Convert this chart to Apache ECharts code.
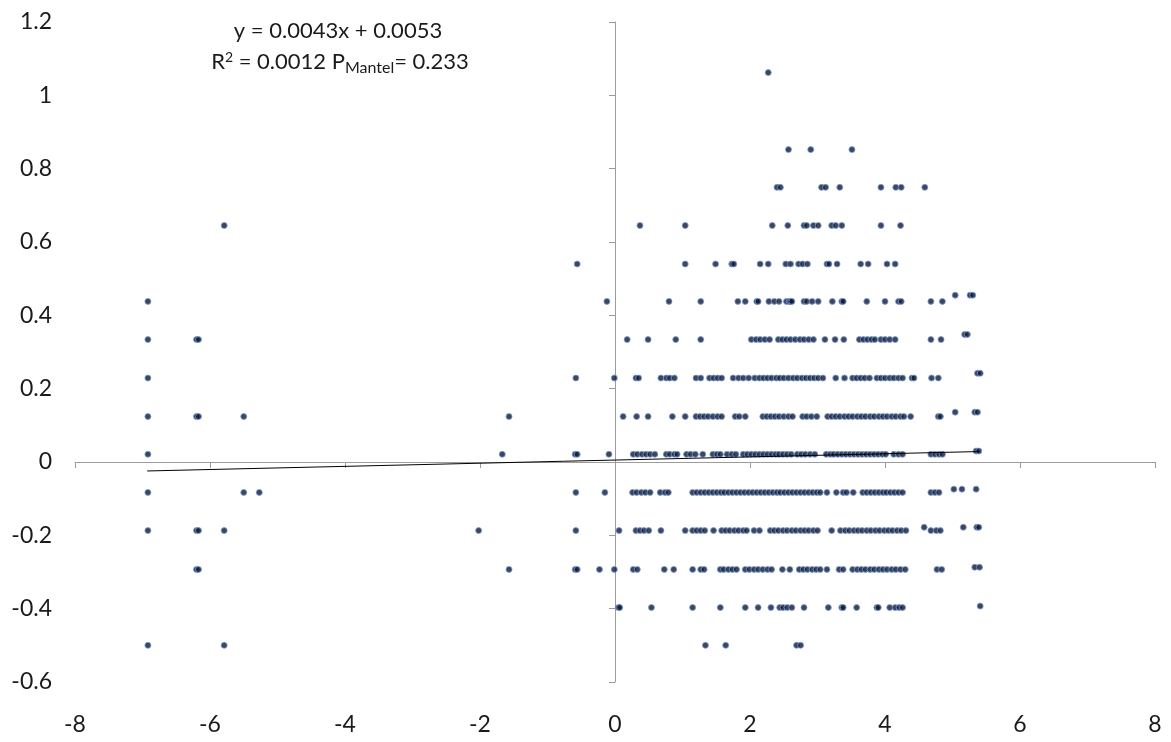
<!DOCTYPE html>
<html>
<head>
<meta charset="utf-8">
<script src="https://cdn.jsdelivr.net/npm/echarts@6/dist/echarts.min.js"></script>
<style>
  html, body { margin: 0; padding: 0; background: #fff; }
  #chart { width: 1171px; height: 742px; }
</style>
</head>
<body>
<div id="chart"></div>
<script>
// Distance-difference values grouped by their discrete y level
const yLevels = [1.062, 0.852, 0.749, 0.645, 0.54, 0.438, 0.334, 0.229, 0.124, 0.021, -0.083, -0.187, -0.293, -0.397, -0.5];

const xAt_1_062 = [2.27];
const xAt_0_852 = [2.57, 2.90, 3.51];
const xAt_0_749 = [2.40, 2.45, 3.06, 3.12, 3.33, 3.94, 4.16, 4.24, 4.59];
const xAt_0_645 = [-5.79, 0.37, 1.04, 2.33, 2.56, 2.80, 2.84, 2.94, 3.01, 3.21, 3.27, 3.36, 3.94, 4.23];
const xAt_0_540 = [-0.56, 1.04, 1.49, 1.73, 1.76, 2.15, 2.27, 2.53, 2.60, 2.72, 2.78, 2.85, 3.14, 3.17, 3.29, 3.64, 3.75, 4.03, 4.15];
const xAt_0_438 = [-6.92, -0.12, 0.80, 1.27, 1.82, 1.93, 2.10, 2.12, 2.28, 2.36, 2.43, 2.54, 2.58, 2.60, 2.62, 2.80, 2.84, 2.92, 3.01, 3.22, 3.36, 3.38, 3.73, 4.00, 4.20, 4.24, 4.68, 4.85];
const xAt_0_334 = [-6.92, -6.20, -6.17, 0.18, 0.49, 0.90, 1.27, 2.02, 2.09, 2.15, 2.22, 2.29, 2.42, 2.48, 2.54, 2.60, 2.67, 2.74, 2.80, 2.87, 2.94, 3.11, 3.26, 3.39, 3.62, 3.68, 3.74, 3.80, 3.85, 3.94, 4.00, 4.07, 4.15, 4.68, 4.83];
const xAt_0_229 = [-6.92, -0.58, -0.01, 0.31, 0.35, 0.68, 0.76, 0.81, 0.88, 1.20, 1.27, 1.40, 1.46, 1.52, 1.58, 1.75, 1.83, 1.90, 1.98, 2.07, 2.14, 2.20, 2.26, 2.32, 2.39, 2.44, 2.50, 2.57, 2.64, 2.70, 2.77, 2.83, 2.89, 2.95, 3.01, 3.08, 3.27, 3.40, 3.52, 3.58, 3.64, 3.70, 3.77, 3.88, 3.94, 4.00, 4.07, 4.13, 4.20, 4.26, 4.40, 4.43, 4.69, 4.79];
const xAt_0_124 = [-6.92, -6.20, -6.17, -5.50, -1.57, 0.12, 0.32, 0.49, 0.85, 1.04, 1.20, 1.26, 1.32, 1.38, 1.45, 1.52, 1.58, 1.78, 1.84, 1.93, 2.19, 2.25, 2.31, 2.37, 2.43, 2.50, 2.57, 2.63, 2.78, 2.84, 2.91, 2.99, 3.15, 3.21, 3.27, 3.33, 3.40, 3.46, 3.52, 3.59, 3.65, 3.71, 3.78, 3.84, 3.91, 3.97, 4.03, 4.10, 4.16, 4.23, 4.28, 4.38, 4.79, 4.82];
const xAt_0_021 = [-6.92, -1.67, -0.59, -0.56, -0.09, 0.27, 0.33, 0.40, 0.46, 0.52, 0.59, 0.76, 0.81, 0.88, 0.92, 1.06, 1.12, 1.19, 1.30, 1.45, 1.51, 1.56, 1.66, 1.73, 1.79, 1.90, 1.96, 2.02, 2.08, 2.14, 2.20, 2.26, 2.32, 2.38, 2.43, 2.49, 2.55, 2.61, 2.70, 2.76, 2.82, 2.89, 2.96, 3.13, 3.19, 3.24, 3.30, 3.36, 3.42, 3.48, 3.54, 3.60, 3.66, 3.72, 3.78, 3.84, 3.90, 3.96, 4.01, 4.13, 4.20, 4.26, 4.68, 4.74, 4.80, 4.85];
const xAt_m0_083 = [-6.92, -5.50, -5.27, -0.58, -0.15, 0.26, 0.32, 0.39, 0.45, 0.52, 0.67, 0.74, 0.79, 1.15, 1.21, 1.27, 1.33, 1.39, 1.45, 1.51, 1.57, 1.62, 1.68, 1.74, 1.80, 1.86, 1.92, 1.98, 2.04, 2.10, 2.16, 2.22, 2.28, 2.34, 2.40, 2.45, 2.51, 2.57, 2.63, 2.69, 2.75, 2.81, 2.87, 2.93, 2.99, 3.04, 3.14, 3.28, 3.38, 3.43, 3.53, 3.67, 3.73, 3.79, 3.85, 3.91, 3.97, 4.02, 4.08, 4.14, 4.20, 4.26, 4.68, 4.74, 4.80];
const xAt_m0_187 = [-6.92, -6.20, -6.17, -5.79, -2.02, -0.58, 0.06, 0.31, 0.37, 0.43, 0.50, 0.68, 1.04, 1.15, 1.21, 1.27, 1.33, 1.46, 1.58, 1.64, 1.70, 1.77, 1.83, 1.90, 1.95, 2.06, 2.14, 2.30, 2.36, 2.42, 2.49, 2.55, 2.62, 2.68, 2.75, 2.81, 2.87, 2.94, 3.00, 3.21, 3.34, 3.41, 3.47, 3.54, 3.60, 3.66, 3.73, 3.79, 3.86, 3.92, 3.99, 4.05, 4.11, 4.18, 4.24, 4.31, 4.68, 4.76, 4.82];
const xAt_m0_293 = [-6.20, -6.17, -1.57, -0.59, -0.56, -0.23, -0.01, 0.27, 0.33, 0.73, 0.87, 1.15, 1.27, 1.32, 1.56, 1.61, 1.68, 1.74, 1.80, 1.93, 1.99, 2.06, 2.12, 2.19, 2.26, 2.32, 2.48, 2.59, 2.73, 2.79, 2.85, 2.92, 2.98, 3.04, 3.14, 3.32, 3.38, 3.52, 3.59, 3.65, 3.71, 3.78, 3.84, 3.91, 3.97, 4.03, 4.10, 4.16, 4.23, 4.30, 4.77, 4.84];
const xAt_m0_397 = [0.05, 0.07, 0.54, 1.15, 1.56, 1.93, 2.12, 2.31, 2.44, 2.49, 2.55, 2.62, 2.80, 3.16, 3.36, 3.38, 3.58, 3.88, 3.90, 4.07, 4.15, 4.21, 4.26];
const xAt_m0_500 = [-6.92, -5.79, 1.34, 1.64, 2.69, 2.75];

const xByLevel = [xAt_1_062, xAt_0_852, xAt_0_749, xAt_0_645, xAt_0_540, xAt_0_438, xAt_0_334,
  xAt_0_229, xAt_0_124, xAt_0_021, xAt_m0_083, xAt_m0_187, xAt_m0_293, xAt_m0_397, xAt_m0_500];

// Points at the far right, whose levels sit slightly above the main ones
const edgeLevels = [0.455, 0.348, 0.242, 0.136, 0.030, -0.074, -0.178, -0.287, -0.393];
const edgeXs = [
  [5.04, 5.26, 5.30],
  [5.18, 5.22],
  [5.37, 5.41],
  [5.04, 5.33, 5.37],
  [5.35, 5.39],
  [5.02, 5.14, 5.35],
  [4.58, 5.16, 5.36, 5.39],
  [5.33, 5.40],
  [5.41]
];

// Linear fit as printed in the annotation
const fitSlope = 0.0043;
const fitIntercept = 0.0053;
const fitRange = [-6.93, 5.4];

const xTicks = { min: -8, max: 8, step: 2 };
const yTicks = { min: -0.6, max: 1.2, step: 0.2 };

const points = [];
yLevels.forEach((y, i) => xByLevel[i].forEach(x => points.push([x, y])));
edgeLevels.forEach((y, i) => edgeXs[i].forEach(x => points.push([x, y])));

const fitLine = fitRange.map(x => [x, fitSlope * x + fitIntercept]);

const FONT = 'Lato, "Open Sans", sans-serif';
const axisGrey = '#9c9c9c';
const textColor = '#1a1a1a';

const chart = echarts.init(document.getElementById('chart'), null, { renderer: 'canvas' });

const fmt = v => String(Math.round(v * 10) / 10);

chart.setOption({
  animation: false,
  backgroundColor: '#ffffff',
  grid: { left: 75, right: 16, top: 22, bottom: 60, containLabel: false },
  xAxis: [
    {
      type: 'value', min: xTicks.min, max: xTicks.max, interval: xTicks.step,
      position: 'bottom',
      axisLine: { show: true, onZero: true, lineStyle: { color: axisGrey, width: 1 } },
      axisTick: { show: true, length: 6, lineStyle: { color: axisGrey } },
      axisLabel: { show: false },
      splitLine: { show: false }
    },
    {
      type: 'value', min: xTicks.min, max: xTicks.max, interval: xTicks.step,
      position: 'bottom',
      axisLine: { show: false, onZero: false },
      axisTick: { show: false },
      axisLabel: { show: true, margin: 31, color: textColor, fontFamily: FONT, fontSize: 23, formatter: fmt },
      splitLine: { show: false }
    }
  ],
  yAxis: [
    {
      type: 'value', min: yTicks.min, max: yTicks.max, interval: yTicks.step,
      position: 'left',
      axisLine: { show: true, onZero: true, lineStyle: { color: axisGrey, width: 1 } },
      axisTick: { show: true, length: 6, lineStyle: { color: axisGrey } },
      axisLabel: { show: false },
      splitLine: { show: false }
    },
    {
      type: 'value', min: yTicks.min, max: yTicks.max, interval: yTicks.step,
      position: 'left',
      axisLine: { show: false, onZero: false },
      axisTick: { show: false },
      axisLabel: { show: true, margin: 23, color: textColor, fontFamily: FONT, fontSize: 23, formatter: fmt },
      splitLine: { show: false }
    }
  ],
  series: [
    {
      type: 'scatter',
      xAxisIndex: 0, yAxisIndex: 0,
      data: points,
      symbol: 'circle',
      symbolSize: 6,
      itemStyle: { color: '#0c1833', borderColor: '#7d9fd6', borderWidth: 1 },
      z: 2
    },
    {
      type: 'line',
      xAxisIndex: 0, yAxisIndex: 0,
      data: fitLine,
      showSymbol: false,
      symbol: 'none',
      lineStyle: { color: '#000000', width: 1 },
      z: 3
    }
  ],
  graphic: [
    {
      type: 'text', x: 338, y: 31,
      style: { text: 'y = 0.0043x + 0.0053', font: '22px ' + FONT, fill: textColor, align: 'center', verticalAlign: 'middle' }
    },
    {
      type: 'text', x: 340, y: 62,
      style: {
        text: '{a|R}{sup|2}{a| = 0.0012 P}{sub|Mantel}{a|= 0.233}',
        fill: textColor,
        align: 'center',
        verticalAlign: 'middle',
        rich: {
          a: { fontFamily: FONT, fontSize: 22, fill: textColor, lineHeight: 30 },
          sup: { fontFamily: FONT, fontSize: 14, fill: textColor, lineHeight: 30, padding: [0, 0, 10, 0] },
          sub: { fontFamily: FONT, fontSize: 16, fill: textColor, lineHeight: 30, padding: [11, 0, 0, 0] }
        }
      }
    }
  ]
});
</script>
</body>
</html>
